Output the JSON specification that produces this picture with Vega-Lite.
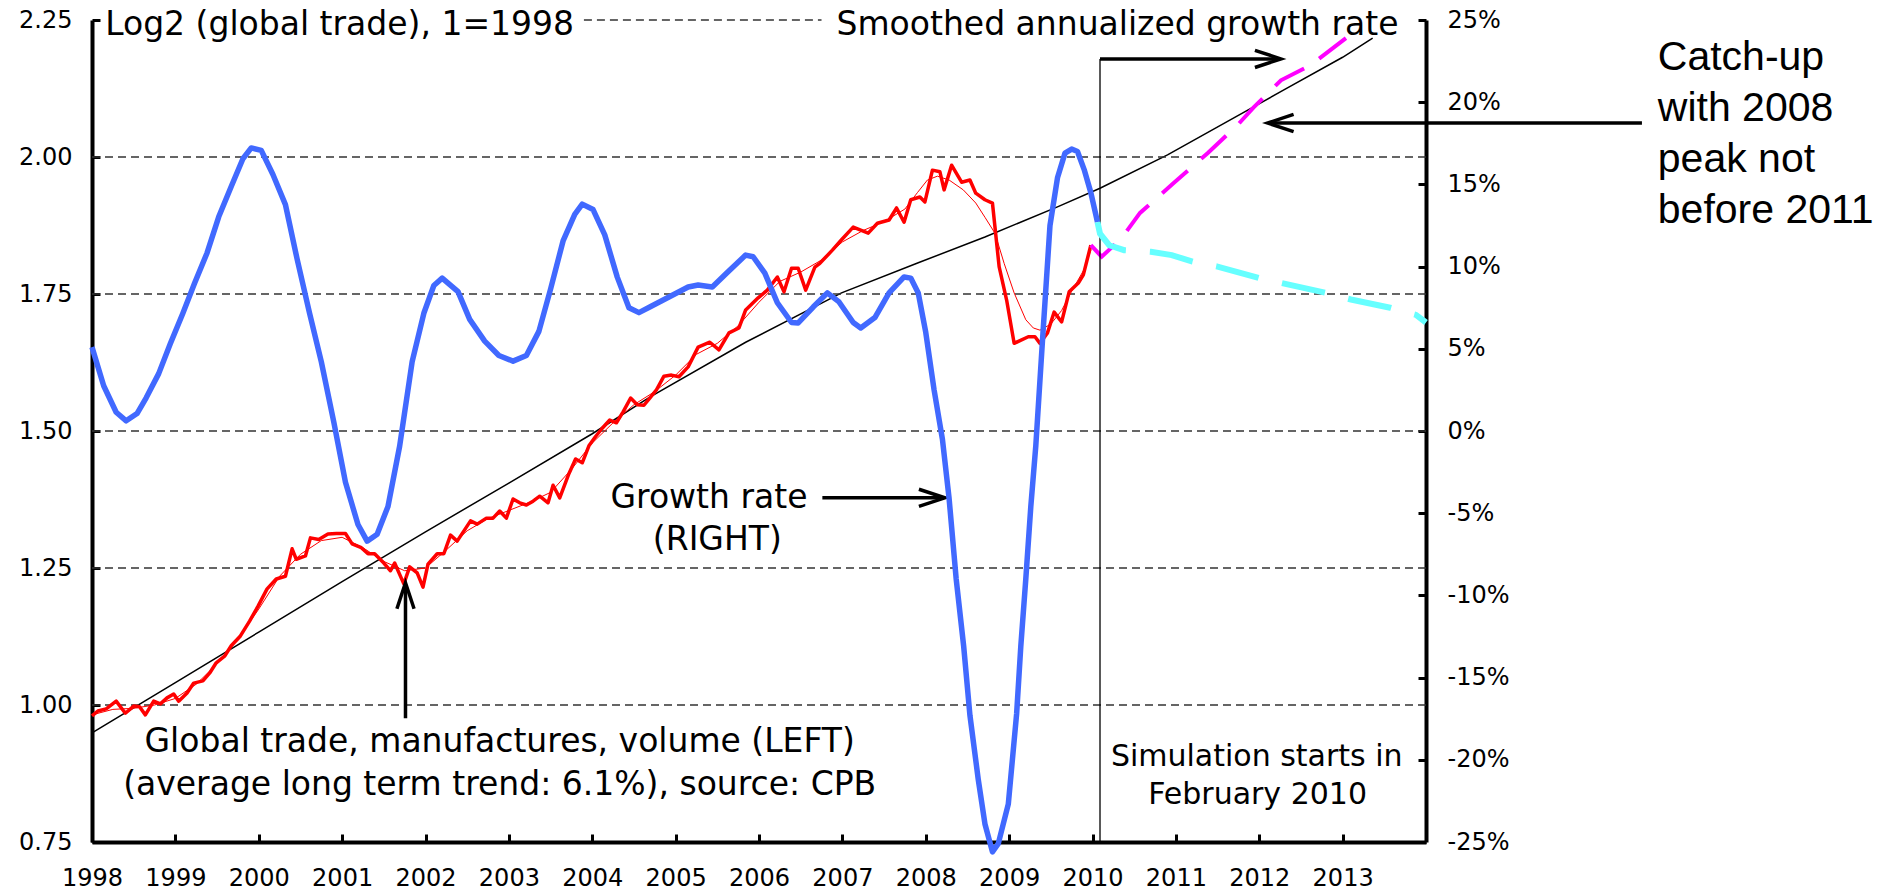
{
  "$schema": "https://vega.github.io/schema/vega-lite/v6.json",
  "width": 1334,
  "height": 822,
  "autosize": {"type": "none"},
  "padding": {"left": 92, "top": 20, "right": 466, "bottom": 54},
  "background": "white",
  "config": {
    "view": {"stroke": null},
    "font": "DejaVu Sans",
    "axis": {"grid": false, "domainColor": "black", "domainWidth": 4, "tickColor": "black", "tickWidth": 3, "tickSize": -8,
      "labelFont": "DejaVu Sans", "labelFontSize": 24, "labelColor": "black", "labelOverlap": false, "titleFontSize": 1},
    "axisX": {"labelPadding": 32, "labelFlush": false},
    "axisLeft": {"labelPadding": 28},
    "axisRight": {"labelPadding": 29}
  },
  "datasets": {
    "red": [
      {"t":1998.00,"v":0.980},{"t":1998.07,"v":0.989},{"t":1998.17,"v":0.993},{"t":1998.29,"v":1.007},{"t":1998.40,"v":0.985},
      {"t":1998.50,"v":0.998},{"t":1998.57,"v":0.997},{"t":1998.64,"v":0.982},{"t":1998.74,"v":1.007},{"t":1998.82,"v":1.002},
      {"t":1998.90,"v":1.013},{"t":1998.98,"v":1.020},{"t":1999.04,"v":1.007},{"t":1999.14,"v":1.022},{"t":1999.22,"v":1.040},
      {"t":1999.33,"v":1.044},{"t":1999.41,"v":1.058},{"t":1999.49,"v":1.077},{"t":1999.59,"v":1.089},{"t":1999.67,"v":1.108},
      {"t":1999.78,"v":1.126},{"t":1999.89,"v":1.153},{"t":1999.99,"v":1.180},{"t":2000.10,"v":1.212},{"t":2000.21,"v":1.230},
      {"t":2000.32,"v":1.235},{"t":2000.40,"v":1.285},{"t":2000.45,"v":1.266},{"t":2000.56,"v":1.272},{"t":2000.62,"v":1.305},
      {"t":2000.72,"v":1.302},{"t":2000.83,"v":1.312},{"t":2000.93,"v":1.313},{"t":2001.04,"v":1.313},{"t":2001.12,"v":1.294},
      {"t":2001.23,"v":1.287},{"t":2001.31,"v":1.276},{"t":2001.39,"v":1.276},{"t":2001.50,"v":1.259},{"t":2001.58,"v":1.245},
      {"t":2001.63,"v":1.259},{"t":2001.74,"v":1.221},{"t":2001.81,"v":1.252},{"t":2001.90,"v":1.241},{"t":2001.97,"v":1.215},
      {"t":2002.03,"v":1.257},{"t":2002.14,"v":1.276},{"t":2002.22,"v":1.276},{"t":2002.30,"v":1.310},{"t":2002.38,"v":1.299},
      {"t":2002.54,"v":1.336},{"t":2002.62,"v":1.330},{"t":2002.73,"v":1.341},{"t":2002.81,"v":1.341},{"t":2002.89,"v":1.354},
      {"t":2002.97,"v":1.341},{"t":2003.05,"v":1.376},{"t":2003.13,"v":1.369},{"t":2003.21,"v":1.365},{"t":2003.29,"v":1.372},
      {"t":2003.37,"v":1.381},{"t":2003.47,"v":1.369},{"t":2003.53,"v":1.401},{"t":2003.61,"v":1.378},{"t":2003.72,"v":1.422},
      {"t":2003.80,"v":1.449},{"t":2003.88,"v":1.442},{"t":2003.96,"v":1.473},{"t":2004.04,"v":1.490},{"t":2004.12,"v":1.505},
      {"t":2004.21,"v":1.520},{"t":2004.29,"v":1.515},{"t":2004.37,"v":1.535},{"t":2004.46,"v":1.560},{"t":2004.54,"v":1.548},
      {"t":2004.62,"v":1.547},{"t":2004.69,"v":1.560},{"t":2004.77,"v":1.575},{"t":2004.86,"v":1.600},{"t":2004.95,"v":1.602},
      {"t":2005.04,"v":1.599},{"t":2005.15,"v":1.617},{"t":2005.27,"v":1.653},{"t":2005.41,"v":1.662},{"t":2005.52,"v":1.648},
      {"t":2005.64,"v":1.679},{"t":2005.76,"v":1.688},{"t":2005.84,"v":1.721},{"t":2005.99,"v":1.743},{"t":2006.10,"v":1.757},
      {"t":2006.22,"v":1.781},{"t":2006.30,"v":1.754},{"t":2006.39,"v":1.797},{"t":2006.47,"v":1.797},{"t":2006.56,"v":1.757},
      {"t":2006.67,"v":1.799},{"t":2006.73,"v":1.806},{"t":2006.88,"v":1.830},{"t":2006.99,"v":1.849},{"t":2007.13,"v":1.872},
      {"t":2007.31,"v":1.861},{"t":2007.42,"v":1.879},{"t":2007.56,"v":1.885},{"t":2007.65,"v":1.907},{"t":2007.74,"v":1.881},
      {"t":2007.82,"v":1.922},{"t":2007.93,"v":1.927},{"t":2007.99,"v":1.918},{"t":2008.08,"v":1.976},{"t":2008.17,"v":1.973},
      {"t":2008.22,"v":1.940},{"t":2008.31,"v":1.985},{"t":2008.43,"v":1.954},{"t":2008.53,"v":1.958},{"t":2008.60,"v":1.934},
      {"t":2008.71,"v":1.922},{"t":2008.80,"v":1.916},{"t":2008.88,"v":1.800},{"t":2008.97,"v":1.739},{"t":2009.06,"v":1.660},
      {"t":2009.23,"v":1.672},{"t":2009.31,"v":1.672},{"t":2009.37,"v":1.660},{"t":2009.46,"v":1.679},{"t":2009.54,"v":1.717},
      {"t":2009.63,"v":1.699},{"t":2009.72,"v":1.754},{"t":2009.83,"v":1.770},{"t":2009.89,"v":1.785},{"t":2009.98,"v":1.839}
    ],
    "smooth": [
      {"t":1998.0,"v":0.982},{"t":1998.25,"v":0.992},{"t":1998.5,"v":0.994},{"t":1998.75,"v":1.0},{"t":1999.0,"v":1.012},
      {"t":1999.25,"v":1.038},{"t":1999.5,"v":1.075},{"t":1999.75,"v":1.12},{"t":2000.0,"v":1.175},{"t":2000.25,"v":1.235},
      {"t":2000.5,"v":1.275},{"t":2000.75,"v":1.3},{"t":2001.0,"v":1.306},{"t":2001.25,"v":1.287},{"t":2001.5,"v":1.262},
      {"t":2001.75,"v":1.245},{"t":2002.0,"v":1.25},{"t":2002.25,"v":1.283},{"t":2002.5,"v":1.318},{"t":2002.75,"v":1.34},
      {"t":2003.0,"v":1.355},{"t":2003.25,"v":1.37},{"t":2003.5,"v":1.388},{"t":2003.75,"v":1.43},{"t":2004.0,"v":1.478},
      {"t":2004.25,"v":1.515},{"t":2004.5,"v":1.548},{"t":2004.75,"v":1.572},{"t":2005.0,"v":1.602},{"t":2005.25,"v":1.64},
      {"t":2005.5,"v":1.66},{"t":2005.75,"v":1.692},{"t":2006.0,"v":1.735},{"t":2006.25,"v":1.773},{"t":2006.5,"v":1.79},
      {"t":2006.75,"v":1.812},{"t":2007.0,"v":1.845},{"t":2007.25,"v":1.866},{"t":2007.5,"v":1.882},{"t":2007.75,"v":1.905},
      {"t":2007.9,"v":1.935},{"t":2008.02,"v":1.958},{"t":2008.14,"v":1.965},{"t":2008.28,"v":1.958},{"t":2008.45,"v":1.94},
      {"t":2008.6,"v":1.916},{"t":2008.71,"v":1.89},{"t":2008.83,"v":1.861},{"t":2008.94,"v":1.806},{"t":2009.06,"v":1.752},
      {"t":2009.2,"v":1.703},{"t":2009.29,"v":1.688},{"t":2009.37,"v":1.684},{"t":2009.5,"v":1.695},{"t":2009.63,"v":1.72},
      {"t":2009.75,"v":1.755},{"t":2009.9,"v":1.795},{"t":2009.98,"v":1.83}
    ],
    "trend": [
      {"t":1998.0,"v":0.949},{"t":1999.0,"v":1.041},{"t":2000.0,"v":1.133},{"t":2001.0,"v":1.225},{"t":2002.0,"v":1.316},
      {"t":2003.0,"v":1.405},{"t":2004.0,"v":1.495},{"t":2004.69,"v":1.562},{"t":2005.84,"v":1.662},{"t":2006.99,"v":1.752},
      {"t":2007.91,"v":1.807},{"t":2008.71,"v":1.854},{"t":2009.58,"v":1.909},{"t":2010.09,"v":1.943},{"t":2010.9,"v":2.004},
      {"t":2011.69,"v":2.071},{"t":2012.29,"v":2.122},{"t":2013.0,"v":2.182},{"t":2013.36,"v":2.217}
    ],
    "sim": [
      {"t":2009.98,"v":1.839},{"t":2010.11,"v":1.818},{"t":2010.35,"v":1.852},{"t":2010.57,"v":1.898},{"t":2010.97,"v":1.952},
      {"t":2011.38,"v":2.007},{"t":2011.75,"v":2.06},{"t":2011.93,"v":2.09},{"t":2012.26,"v":2.14},{"t":2012.62,"v":2.168},
      {"t":2013.04,"v":2.217}
    ],
    "growth": [
      {"t":1998.00,"p":5.1},{"t":1998.14,"p":2.75},{"t":1998.29,"p":1.14},{"t":1998.41,"p":0.62},{"t":1998.54,"p":1.06},
      {"t":1998.65,"p":2.02},{"t":1998.80,"p":3.49},{"t":1998.94,"p":5.32},{"t":1999.09,"p":7.16},{"t":1999.23,"p":8.99},
      {"t":1999.38,"p":10.83},{"t":1999.52,"p":13.03},{"t":1999.67,"p":14.87},{"t":1999.81,"p":16.56},{"t":1999.91,"p":17.22},
      {"t":2000.03,"p":17.07},{"t":2000.17,"p":15.6},{"t":2000.32,"p":13.77},{"t":2000.46,"p":10.46},{"t":2000.61,"p":7.16},
      {"t":2000.75,"p":4.22},{"t":2000.90,"p":0.55},{"t":2001.04,"p":-3.12},{"t":2001.19,"p":-5.69},{"t":2001.30,"p":-6.7},
      {"t":2001.42,"p":-6.28},{"t":2001.55,"p":-4.59},{"t":2001.69,"p":-0.92},{"t":2001.84,"p":4.22},{"t":2001.98,"p":7.16},
      {"t":2002.10,"p":8.85},{"t":2002.20,"p":9.3},{"t":2002.39,"p":8.48},{"t":2002.53,"p":6.79},{"t":2002.71,"p":5.47},
      {"t":2002.88,"p":4.59},{"t":2003.05,"p":4.25},{"t":2003.21,"p":4.59},{"t":2003.36,"p":6.06},{"t":2003.50,"p":8.63},
      {"t":2003.65,"p":11.56},{"t":2003.79,"p":13.18},{"t":2003.88,"p":13.8},{"t":2004.01,"p":13.47},{"t":2004.15,"p":11.93},
      {"t":2004.30,"p":9.36},{"t":2004.44,"p":7.5},{"t":2004.56,"p":7.2},{"t":2004.69,"p":7.54},{"t":2004.92,"p":8.15},
      {"t":2005.15,"p":8.76},{"t":2005.27,"p":8.88},{"t":2005.44,"p":8.76},{"t":2005.61,"p":9.6},{"t":2005.84,"p":10.7},
      {"t":2005.93,"p":10.6},{"t":2006.07,"p":9.6},{"t":2006.22,"p":7.8},{"t":2006.39,"p":6.6},{"t":2006.47,"p":6.57},
      {"t":2006.65,"p":7.54},{"t":2006.82,"p":8.4},{"t":2006.96,"p":7.85},{"t":2007.13,"p":6.6},{"t":2007.22,"p":6.27},
      {"t":2007.39,"p":6.9},{"t":2007.56,"p":8.4},{"t":2007.74,"p":9.37},{"t":2007.82,"p":9.3},{"t":2007.91,"p":8.4},
      {"t":2008.0,"p":6.0},{"t":2008.1,"p":2.5},{"t":2008.2,"p":-0.5},{"t":2008.28,"p":-4.1},{"t":2008.365,"p":-9.0},
      {"t":2008.455,"p":-13.1},{"t":2008.53,"p":-17.3},{"t":2008.63,"p":-21.2},{"t":2008.71,"p":-23.9},{"t":2008.80,"p":-25.6},
      {"t":2008.87,"p":-25.1},{"t":2008.99,"p":-22.7},{"t":2009.09,"p":-17.2},{"t":2009.14,"p":-13.1},{"t":2009.2,"p":-9.0},
      {"t":2009.26,"p":-4.6},{"t":2009.32,"p":-0.9},{"t":2009.40,"p":5.5},{"t":2009.49,"p":12.5},{"t":2009.58,"p":15.4},
      {"t":2009.67,"p":16.9},{"t":2009.75,"p":17.15},{"t":2009.82,"p":17.0},{"t":2009.90,"p":15.9},{"t":2009.98,"p":14.5},
      {"t":2010.06,"p":12.7}
    ],
    "simgrowth": [
      {"t":2010.06,"p":12.7},{"t":2010.09,"p":12.0},{"t":2010.2,"p":11.3},{"t":2010.38,"p":11.0},{"t":2010.7,"p":10.9},
      {"t":2010.95,"p":10.7},{"t":2011.2,"p":10.3},{"t":2011.5,"p":10.0},{"t":2012.0,"p":9.3},{"t":2012.27,"p":9.0},
      {"t":2012.8,"p":8.4},{"t":2013.1,"p":8.0},{"t":2013.57,"p":7.5},{"t":2013.88,"p":7.06},{"t":2014.0,"p":6.6}
    ],
    "grid": [{"v":1.0},{"v":1.25},{"v":1.5},{"v":1.75},{"v":2.0}],
    "topgrid": [{"t":2003.9,"t2":2006.75,"v":2.25}],
    "marker": [{"t":2010.09,"t2":2010.09,"v":0.75,"v2":2.179}],
    "arrows": [
      {"t":2010.09,"t2":2012.24,"v":2.179,"v2":2.179},
      {"t":2012.12,"t2":2016.59,"v":2.062,"v2":2.062},
      {"t":2006.76,"t2":2008.21,"v":1.378,"v2":1.378},
      {"t":2001.76,"t2":2001.76,"v":0.976,"v2":1.22}
    ],
    "heads": [
      {"t":2012.26,"v":2.179,"dir":"right"},
      {"t":2012.10,"v":2.062,"dir":"left"},
      {"t":2008.23,"v":1.378,"dir":"right"},
      {"t":2001.76,"v":1.223,"dir":"up"}
    ],
    "notes": [
      {"t":2000.97,"v":2.2226,"text":"Log2 (global trade), 1=1998"},
      {"t":2010.30,"v":2.2226,"text":"Smoothed annualized growth rate"},
      {"t":2005.40,"v":1.3595,"text":"Growth rate"},
      {"t":2005.50,"v":1.2828,"text":"(RIGHT)"},
      {"t":2002.89,"v":0.9142,"text":"Global trade, manufactures, volume (LEFT)"},
      {"t":2002.89,"v":0.8358,"text":"(average long term trend: 6.1%), source: CPB"}
    ],
    "simnotes": [
      {"t":2011.97,"v":0.8887,"text":"Simulation starts in"},
      {"t":2011.98,"v":0.8193,"text":"February 2010"}
    ],
    "catchup": [
      {"t":2016.78,"v":2.1588,"text":"Catch-up"},
      {"t":2016.78,"v":2.0657,"text":"with 2008"},
      {"t":2016.78,"v":1.9726,"text":"peak not"},
      {"t":2016.78,"v":1.8796,"text":"before 2011"}
    ]
  },
  "layer": [
    {
      "layer": [
        {
          "data": {"name": "trend"},
          "mark": {"type": "line", "color": "black", "strokeWidth": 1.5},
          "encoding": {
            "x": {"field": "t", "type": "quantitative", "title": null, "scale": {"domain": [1998, 2014], "nice": false, "zero": false},
              "axis": {"orient": "bottom", "title": null, "values": [1998,1999,2000,2001,2002,2003,2004,2005,2006,2007,2008,2009,2010,2011,2012,2013], "format": "d"}},
            "y": {"field": "v", "type": "quantitative", "title": null, "scale": {"domain": [0.75, 2.25], "nice": false, "zero": false},
              "axis": {"orient": "left", "title": null, "values": [0.75, 1, 1.25, 1.5, 1.75, 2, 2.25], "format": ".2f"}}
          }
        },
        {
          "data": {"name": "grid"},
          "mark": {"type": "rule", "color": "#333333", "strokeWidth": 1.3, "strokeDash": [8, 5]},
          "encoding": {
            "y": {"field": "v", "type": "quantitative", "title": null}
          }
        },
        {
          "data": {"name": "topgrid"},
          "mark": {"type": "rule", "color": "#333333", "strokeWidth": 1.3, "strokeDash": [8, 5]},
          "encoding": {
            "x": {"field": "t", "type": "quantitative", "title": null},
            "x2": {"field": "t2"},
            "y": {"field": "v", "type": "quantitative", "title": null}
          }
        },
        {
          "data": {"name": "smooth"},
          "mark": {"type": "line", "color": "#FF0000", "strokeWidth": 1},
          "encoding": {
            "x": {"field": "t", "type": "quantitative", "title": null},
            "y": {"field": "v", "type": "quantitative", "title": null}
          }
        },
        {
          "data": {"name": "red"},
          "mark": {"type": "line", "color": "#FF0000", "strokeWidth": 3.5, "strokeJoin": "round"},
          "encoding": {
            "x": {"field": "t", "type": "quantitative", "title": null},
            "y": {"field": "v", "type": "quantitative", "title": null}
          }
        },
        {
          "data": {"name": "sim"},
          "mark": {"type": "line", "color": "#FF00FF", "strokeWidth": 4, "strokeDash": [34, 18]},
          "encoding": {
            "x": {"field": "t", "type": "quantitative", "title": null},
            "y": {"field": "v", "type": "quantitative", "title": null}
          }
        },
        {
          "data": {"name": "marker"},
          "mark": {"type": "rule", "color": "black", "strokeWidth": 1.3},
          "encoding": {
            "x": {"field": "t", "type": "quantitative", "title": null},
            "x2": {"field": "t2"},
            "y": {"field": "v", "type": "quantitative", "title": null},
            "y2": {"field": "v2"}
          }
        },
        {
          "data": {"name": "arrows"},
          "mark": {"type": "rule", "color": "black", "strokeWidth": 3.5},
          "encoding": {
            "x": {"field": "t", "type": "quantitative", "title": null},
            "x2": {"field": "t2"},
            "y": {"field": "v", "type": "quantitative", "title": null},
            "y2": {"field": "v2"}
          }
        },
        {
          "data": {"name": "heads"},
          "mark": {"type": "point", "filled": false, "color": "black", "strokeWidth": 3.5, "opacity": 1, "size": 2704},
          "encoding": {
            "x": {"field": "t", "type": "quantitative", "title": null},
            "y": {"field": "v", "type": "quantitative", "title": null},
            "shape": {"field": "dir", "type": "nominal", "legend": null,
              "scale": {"domain": ["right", "left", "up"], "range": ["M-1,-0.33L0,0L-1,0.33", "M1,-0.33L0,0L1,0.33", "M-0.33,1L0,0L0.33,1"]}}
          }
        },
        {
          "data": {"name": "notes"},
          "mark": {"type": "text", "font": "DejaVu Sans", "fontSize": 33, "color": "black", "align": "center", "baseline": "alphabetic"},
          "encoding": {
            "x": {"field": "t", "type": "quantitative", "title": null},
            "y": {"field": "v", "type": "quantitative", "title": null},
            "text": {"field": "text"}
          }
        },
        {
          "data": {"name": "simnotes"},
          "mark": {"type": "text", "font": "DejaVu Sans", "fontSize": 30, "color": "black", "align": "center", "baseline": "alphabetic"},
          "encoding": {
            "x": {"field": "t", "type": "quantitative", "title": null},
            "y": {"field": "v", "type": "quantitative", "title": null},
            "text": {"field": "text"}
          }
        },
        {
          "data": {"name": "catchup"},
          "mark": {"type": "text", "font": "Liberation Sans", "fontSize": 41, "color": "black", "align": "left", "baseline": "alphabetic"},
          "encoding": {
            "x": {"field": "t", "type": "quantitative", "title": null},
            "y": {"field": "v", "type": "quantitative", "title": null},
            "text": {"field": "text"}
          }
        }
      ]
    },
    {
      "layer": [
        {
          "data": {"name": "growth"},
          "mark": {"type": "line", "color": "#4169FF", "strokeWidth": 5.5, "strokeJoin": "round"},
          "encoding": {
            "x": {"field": "t", "type": "quantitative", "title": null},
            "y": {"field": "p", "type": "quantitative", "title": null, "scale": {"domain": [-25, 25], "nice": false, "zero": false},
              "axis": {"orient": "right", "title": null, "values": [-25, -20, -15, -10, -5, 0, 5, 10, 15, 20, 25], "labelExpr": "datum.value + '%'"}}
          }
        },
        {
          "data": {"name": "simgrowth"},
          "mark": {"type": "line", "color": "#66FFFF", "strokeWidth": 6, "strokeDash": [44, 24]},
          "encoding": {
            "x": {"field": "t", "type": "quantitative", "title": null},
            "y": {"field": "p", "type": "quantitative", "title": null}
          }
        }
      ]
    }
  ],
  "resolve": {"scale": {"y": "independent"}}
}
